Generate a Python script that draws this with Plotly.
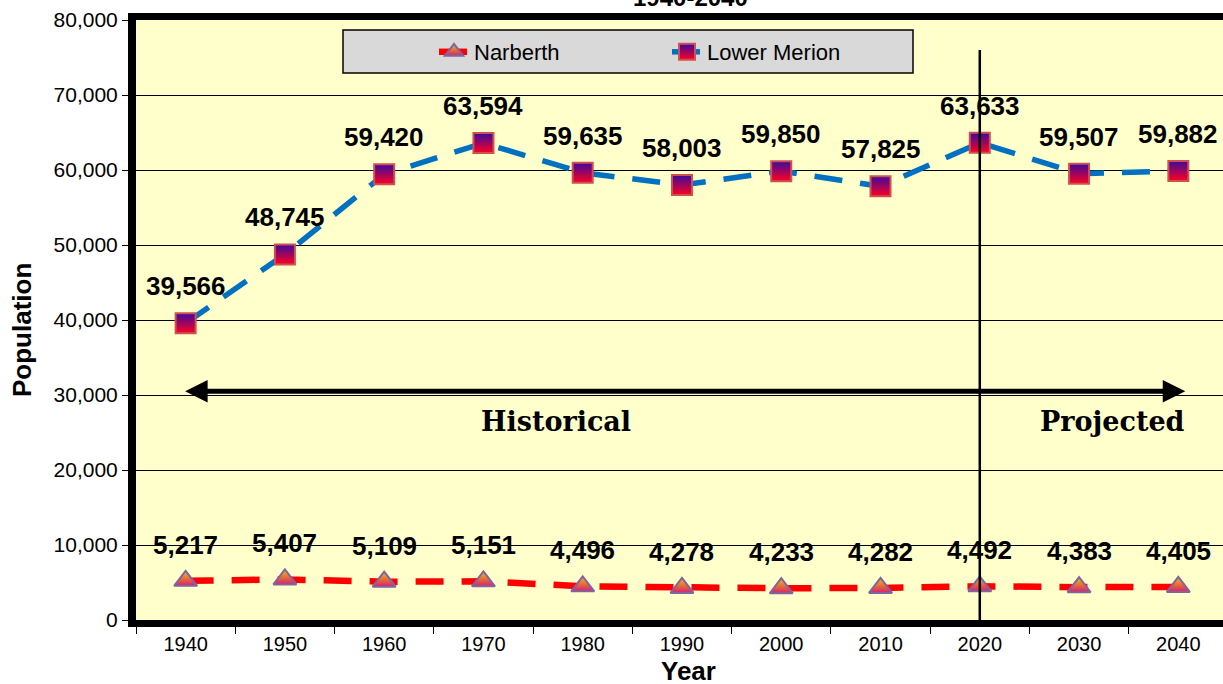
import plotly.graph_objects as go

years = ["1940", "1950", "1960", "1970", "1980", "1990", "2000", "2010", "2020", "2030", "2040"]
narberth = [5217, 5407, 5109, 5151, 4496, 4278, 4233, 4282, 4492, 4383, 4405]
lower_merion = [39566, 48745, 59420, 63594, 59635, 58003, 59850, 57825, 63633, 59507, 59882]
y_ticks = [0, 10000, 20000, 30000, 40000, 50000, 60000, 70000, 80000]

fig = go.Figure()
fig.add_trace(go.Scatter(
    x=years, y=narberth, name="Narberth", mode="lines+markers",
    line=dict(color="#FF0000", width=6.5, dash="28px,18px"),
    marker=dict(symbol="triangle-up", size=20, color="#F2C200",
                gradient=dict(type="vertical", color="#D8206E"),
                line=dict(color="#8064A2", width=2)),
))
fig.add_trace(go.Scatter(
    x=years, y=lower_merion, name="Lower Merion", mode="lines+markers",
    line=dict(color="#0070C0", width=5.5, dash="28px,18px"),
    marker=dict(symbol="square", size=20, color="#3A0AA0",
                gradient=dict(type="vertical", color="#FF0020"),
                line=dict(color="#D05050", width=2)),
))

# data labels (category axis -> annotation x is the category index)
lbl_font = dict(family="Liberation Sans, Arial", size=26, color="black", weight="bold")
for i, v in enumerate(lower_merion):
    fig.add_annotation(x=i, y=v, text=f"{v:,}", showarrow=False, yshift=37, font=lbl_font)
for i, v in enumerate(narberth):
    fig.add_annotation(x=i, y=v, text=f"{v:,}", showarrow=False, yshift=36, font=lbl_font)

# historical / projected arrow
fig.add_annotation(x=10.07, y=30500, ax=-0.02, ay=30500, xref="x", yref="y", axref="x", ayref="y",
                   text="", showarrow=True, arrowhead=2, arrowside="end+start",
                   arrowwidth=5, arrowsize=0.9, arrowcolor="black")
serif = dict(family="DejaVu Serif", size=27, color="black", weight="bold")
fig.add_annotation(x=3.73, y=26500, text="Historical", showarrow=False, font=serif)
fig.add_annotation(x=9.34, y=26500, text="Projected", showarrow=False, font=serif)

# split between historical and projected
fig.add_shape(type="line", x0=years.index("2020"), x1=years.index("2020"), y0=0, y1=76000,
              xref="x", yref="y", line=dict(color="black", width=2.5))

# legend box
fig.add_shape(type="rect", xref="paper", yref="paper",
              x0=(343 - 136) / 1087, x1=(913 - 136) / 1087,
              y0=1 - (73 - 20) / 600, y1=1 - (30 - 20) / 600,
              fillcolor="#D9D9D9", line=dict(color="black", width=1.5), layer="above")

fig.add_annotation(x=(690 - 136) / 1087, y=1, xref="paper", yref="paper", yanchor="bottom", yshift=7,
                   text="1940-2040", showarrow=False,
                   font=dict(family="Liberation Sans, Arial", size=24, color="black", weight="bold"))

# axis titles
title_font = dict(family="Liberation Sans, Arial", size=26, color="black", weight="bold")
fig.add_annotation(x=(688 - 136) / 1087, y=0, xref="paper", yref="paper", yshift=-51,
                   xanchor="center", yanchor="middle",
                   text="Year", showarrow=False, font=title_font)
fig.add_annotation(x=0, y=1 - (330 - 20) / 600, xref="paper", yref="paper", xshift=-114,
                   xanchor="center", yanchor="middle",
                   text="Population", textangle=-90, showarrow=False, font=title_font)

fig.update_layout(
    width=1223, height=684,
    margin=dict(l=136, r=0, t=20, b=64),
    paper_bgcolor="white", plot_bgcolor="#FFFFCC",
    font=dict(family="Liberation Sans, Arial", color="black"),
    showlegend=True,
    legend=dict(orientation="h", x=(434 - 136) / 1087, y=1 - (31 - 20) / 600,
                xanchor="left", yanchor="top", bgcolor="rgba(0,0,0,0)",
                font=dict(size=22), entrywidth=188, entrywidthmode="pixels"),
)
fig.update_xaxes(
    type="category", range=[-0.5, 10.45], showgrid=False,
    showline=True, linewidth=7, linecolor="black", mirror=True,
    ticks="outside", tickson="boundaries", ticklen=7, tickcolor="black",
    tickfont=dict(size=20),
)
fig.update_yaxes(
    range=[0, 80000], tickvals=y_ticks, tickformat=",",
    showgrid=True, gridcolor="black", gridwidth=1, zeroline=False,
    showline=True, linewidth=8, linecolor="black",
    ticks="outside", ticklen=6, tickcolor="black",
    tickfont=dict(size=21),
)

fig.write_html("out.html", config={"displayModeBar": False},
               post_script="document.body.style.margin = '0';")
